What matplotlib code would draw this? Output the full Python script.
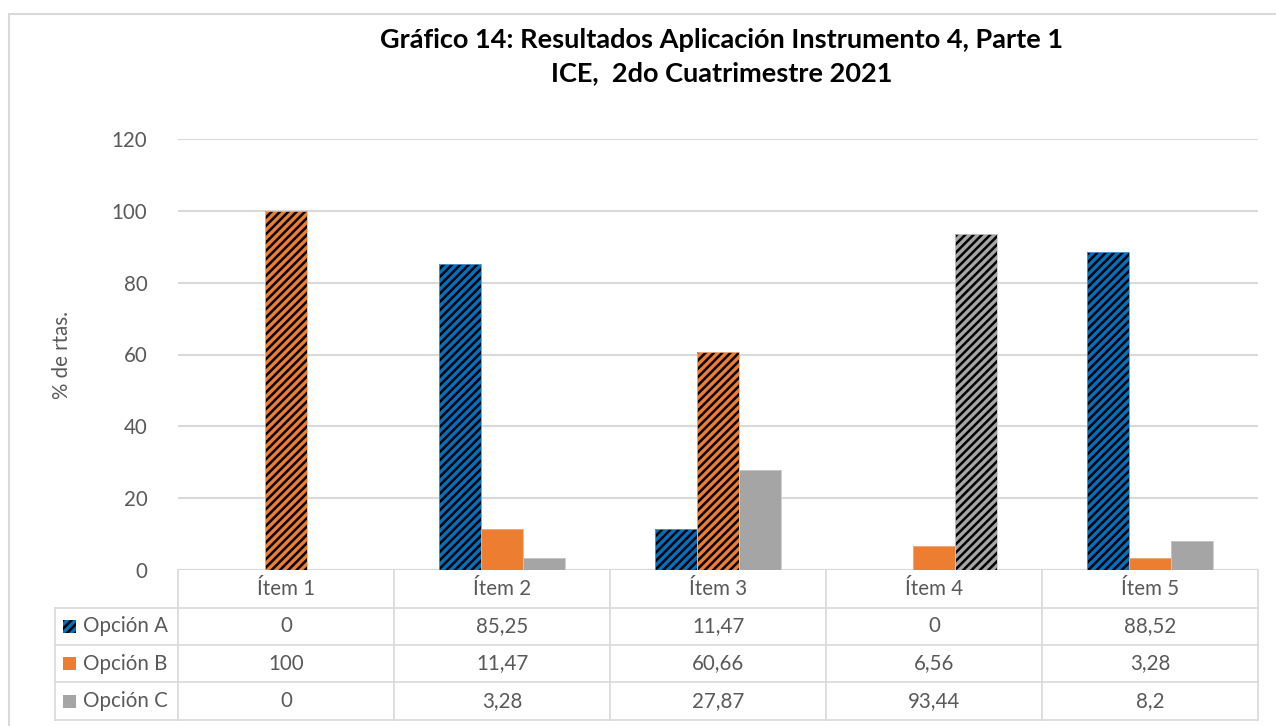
import matplotlib
matplotlib.use("Agg")
import matplotlib.pyplot as plt
from matplotlib.patches import Rectangle
from matplotlib.lines import Line2D
import numpy as np

plt.rcParams['font.family'] = ['Lato', 'DejaVu Sans']
plt.rcParams['hatch.linewidth'] = 1.8
plt.rcParams['hatch.color'] = 'black'

categories = ["Ítem 1", "Ítem 2", "Ítem 3", "Ítem 4", "Ítem 5"]
series_names = ["Opción A", "Opción B", "Opción C"]
opcion_a = [0, 85.25, 11.47, 0, 88.52]
opcion_b = [100, 11.47, 60.66, 6.56, 3.28]
opcion_c = [0, 3.28, 27.87, 93.44, 8.2]
labels_a = ["0", "85,25", "11,47", "0", "88,52"]
labels_b = ["100", "11,47", "60,66", "6,56", "3,28"]
labels_c = ["0", "3,28", "27,87", "93,44", "8,2"]
# correct answers (hatched bars)
correct_a = [True, True, True, False, True]
correct_b = [True, False, True, False, False]
correct_c = [False, False, False, True, False]
yticks = [0, 20, 40, 60, 80, 100, 120]

colors = ["#0070C0", "#ED7D31", "#A5A5A5"]
edge_colors = ["#5B9BD5", "#F4B183", "#C9C9C9"]
txt_color = "#595959"
grid_color = "#D9D9D9"
fs = 14.8

W, H = 1276, 726
fig = plt.figure(figsize=(W / 100, H / 100), dpi=100)

def fx(px):
    return px / W

def fy(py):
    return 1 - py / H

# outer frame
fig.patches.append(Rectangle((fx(9), fy(740)), fx(1300) - fx(9), fy(14) - fy(740),
                             transform=fig.transFigure, fill=False,
                             edgecolor="#D9D9D9", linewidth=1.5))

ax_l, ax_r, ax_t, ax_b = 178, 1258, 139, 570
ax = fig.add_axes([fx(ax_l), fy(ax_b), fx(ax_r) - fx(ax_l), fy(ax_t) - fy(ax_b)])
ax.set_xlim(-0.5, len(categories) - 0.5)
ax.set_ylim(0, 120)
ax.set_yticks(yticks)
ax.set_yticklabels([str(t) for t in yticks], fontsize=fs, color=txt_color)
ax.tick_params(axis='y', length=0, pad=22)
ax.set_xticks([])
for s in ax.spines.values():
    s.set_visible(False)
ax.grid(axis='y', color=grid_color, linewidth=1.5)
ax.set_axisbelow(True)
ax.axhline(0, color=grid_color, linewidth=1.5, zorder=1)

x = np.arange(len(categories))
bw = 0.195
series = [opcion_a, opcion_b, opcion_c]
corrects = [correct_a, correct_b, correct_c]
offsets = [-bw, 0, bw]
for si in range(3):
    vals = series[si]
    pos = x + offsets[si]
    ax.bar(pos, vals, bw, color=colors[si], linewidth=0, zorder=2)
    hv = [v if c else 0 for v, c in zip(vals, corrects[si])]
    ax.bar(pos, hv, bw, facecolor='none', edgecolor='black', hatch='////',
           linewidth=0, zorder=3)
    ax.bar(pos, vals, bw, facecolor='none', edgecolor=edge_colors[si],
           linewidth=0.6, zorder=4)

fig.text(fx(62), fy(355), "% de rtas.", rotation=90, ha='center', va='center',
         fontsize=fs, color=txt_color)

# title
fig.text(fx(722), fy(40), "Gráfico 14: Resultados Aplicación Instrumento 4, Parte 1",
         ha='center', va='center', fontsize=19.5, fontweight='bold', color='black')
fig.text(fx(722), fy(73), "ICE,  2do Cuatrimestre 2021",
         ha='center', va='center', fontsize=19.5, fontweight='bold', color='black')

# data table
col_edges = [178, 394, 610, 826, 1042, 1258]
row_edges = [570, 608, 645, 682, 720]
lw = 1.2

def hline(y, x0, x1):
    fig.add_artist(Line2D([fx(x0), fx(x1)], [fy(y), fy(y)], transform=fig.transFigure,
                          color=grid_color, linewidth=lw))

def vline(xp, y0, y1):
    fig.add_artist(Line2D([fx(xp), fx(xp)], [fy(y0), fy(y1)], transform=fig.transFigure,
                          color=grid_color, linewidth=lw))

for y in row_edges[1:]:
    hline(y, 55, 1258)
for xp in col_edges:
    vline(xp, 570, 720)
vline(55, 608, 720)

for ci, cat in enumerate(categories):
    cx = (col_edges[ci] + col_edges[ci + 1]) / 2
    fig.text(fx(cx), fy(589), cat, ha='center', va='center', fontsize=fs, color=txt_color)

all_labels = [labels_a, labels_b, labels_c]
for ri in range(3):
    cy = (row_edges[ri + 1] + row_edges[ri + 2]) / 2
    for ci in range(len(categories)):
        cx = (col_edges[ci] + col_edges[ci + 1]) / 2
        fig.text(fx(cx), fy(cy), all_labels[ri][ci], ha='center', va='center',
                 fontsize=fs, color=txt_color)
    # legend key
    key = Rectangle((fx(63), fy(cy + 6.5)), fx(13), fy(0) - fy(13),
                    transform=fig.transFigure, facecolor=colors[ri], edgecolor='none')
    fig.patches.append(key)
    if ri == 0:
        hk = Rectangle((fx(63), fy(cy + 6.5)), fx(13), fy(0) - fy(13),
                       transform=fig.transFigure, facecolor='none', edgecolor='black',
                       hatch='////', linewidth=0)
        fig.patches.append(hk)
    fig.text(fx(83), fy(cy), series_names[ri], ha='left', va='center',
             fontsize=fs, color=txt_color)

fig.savefig("out.png", dpi=100)
